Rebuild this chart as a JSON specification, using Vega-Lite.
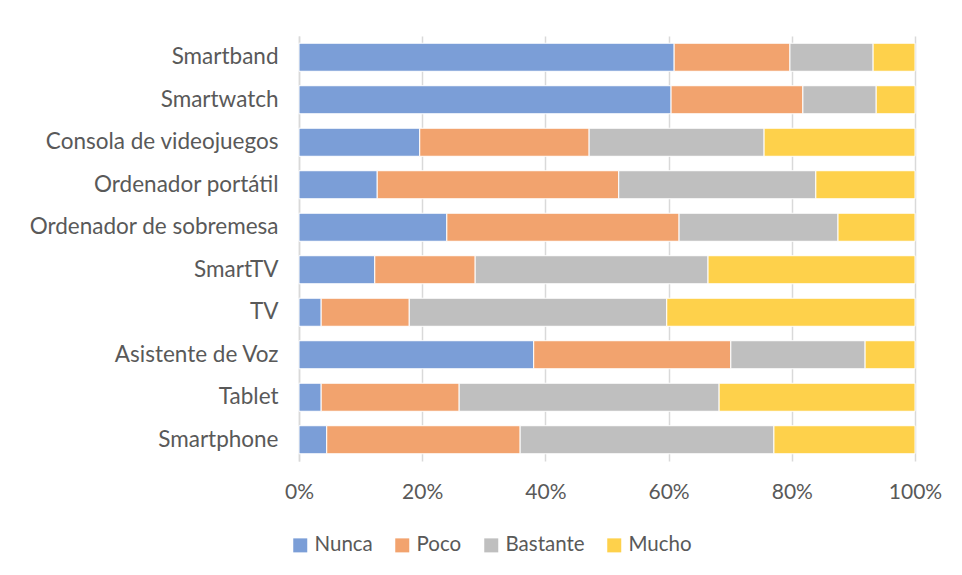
{
  "$schema": "https://vega.github.io/schema/vega-lite/v6.json",
  "width": 616,
  "height": 425,
  "autosize": "none",
  "padding": {"left": 299, "top": 36, "right": 47, "bottom": 114},
  "background": "white",
  "data": {"values": [
    {"d": "Smartband", "r": "Nunca", "v": 60.9}, {"d": "Smartband", "r": "Poco", "v": 18.8}, {"d": "Smartband", "r": "Bastante", "v": 13.5}, {"d": "Smartband", "r": "Mucho", "v": 6.8},
    {"d": "Smartwatch", "r": "Nunca", "v": 60.4}, {"d": "Smartwatch", "r": "Poco", "v": 21.4}, {"d": "Smartwatch", "r": "Bastante", "v": 11.9}, {"d": "Smartwatch", "r": "Mucho", "v": 6.3},
    {"d": "Consola de videojuegos", "r": "Nunca", "v": 19.6}, {"d": "Consola de videojuegos", "r": "Poco", "v": 27.5}, {"d": "Consola de videojuegos", "r": "Bastante", "v": 28.4}, {"d": "Consola de videojuegos", "r": "Mucho", "v": 24.5},
    {"d": "Ordenador portátil", "r": "Nunca", "v": 12.7}, {"d": "Ordenador portátil", "r": "Poco", "v": 39.2}, {"d": "Ordenador portátil", "r": "Bastante", "v": 32.0}, {"d": "Ordenador portátil", "r": "Mucho", "v": 16.1},
    {"d": "Ordenador de sobremesa", "r": "Nunca", "v": 24.0}, {"d": "Ordenador de sobremesa", "r": "Poco", "v": 37.7}, {"d": "Ordenador de sobremesa", "r": "Bastante", "v": 25.8}, {"d": "Ordenador de sobremesa", "r": "Mucho", "v": 12.5},
    {"d": "SmartTV", "r": "Nunca", "v": 12.3}, {"d": "SmartTV", "r": "Poco", "v": 16.3}, {"d": "SmartTV", "r": "Bastante", "v": 37.8}, {"d": "SmartTV", "r": "Mucho", "v": 33.6},
    {"d": "TV", "r": "Nunca", "v": 3.6}, {"d": "TV", "r": "Poco", "v": 14.3}, {"d": "TV", "r": "Bastante", "v": 41.8}, {"d": "TV", "r": "Mucho", "v": 40.3},
    {"d": "Asistente de Voz", "r": "Nunca", "v": 38.1}, {"d": "Asistente de Voz", "r": "Poco", "v": 32.0}, {"d": "Asistente de Voz", "r": "Bastante", "v": 21.8}, {"d": "Asistente de Voz", "r": "Mucho", "v": 8.1},
    {"d": "Tablet", "r": "Nunca", "v": 3.6}, {"d": "Tablet", "r": "Poco", "v": 22.4}, {"d": "Tablet", "r": "Bastante", "v": 42.2}, {"d": "Tablet", "r": "Mucho", "v": 31.8},
    {"d": "Smartphone", "r": "Nunca", "v": 4.5}, {"d": "Smartphone", "r": "Poco", "v": 31.4}, {"d": "Smartphone", "r": "Bastante", "v": 41.2}, {"d": "Smartphone", "r": "Mucho", "v": 22.9}
  ]},
  "transform": [{"calculate": "indexof(['Nunca','Poco','Bastante','Mucho'], datum.r)", "as": "o"}],
  "mark": {"type": "bar", "stroke": "white", "strokeWidth": 1},
  "encoding": {
    "y": {
      "field": "d", "type": "nominal",
      "sort": ["Smartband", "Smartwatch", "Consola de videojuegos", "Ordenador portátil", "Ordenador de sobremesa", "SmartTV", "TV", "Asistente de Voz", "Tablet", "Smartphone"],
      "scale": {"paddingInner": 0.34, "paddingOuter": 0.17},
      "axis": {"title": null, "ticks": false, "domainColor": "#d9d9d9", "domainWidth": 1.5, "labelFont": "Lato", "labelFontSize": 22.5, "labelColor": "#595959", "labelPadding": 21, "labelLimit": 400, "grid": false}
    },
    "x": {
      "field": "v", "type": "quantitative", "stack": "normalize",
      "scale": {"domain": [0, 1]},
      "axis": {"title": null, "format": ".0%", "values": [0, 0.2, 0.4, 0.6, 0.8, 1], "domain": false, "ticks": false, "grid": true, "gridColor": "#d9d9d9", "gridWidth": 1.5, "labelFlush": false, "labelFont": "Lato", "labelFontSize": 21, "labelColor": "#595959", "labelPadding": 20}
    },
    "order": {"field": "o", "type": "quantitative"},
    "color": {
      "field": "r", "type": "nominal",
      "sort": ["Nunca", "Poco", "Bastante", "Mucho"],
      "scale": {"domain": ["Nunca", "Poco", "Bastante", "Mucho"], "range": ["#7b9ed7", "#f2a36e", "#bfbfbf", "#fed14b"]},
      "legend": {"title": null, "orient": "none", "direction": "horizontal", "legendX": -9, "legendY": 499, "symbolType": "square", "symbolSize": 196, "symbolStrokeWidth": 0, "labelFont": "Lato", "labelFontSize": 20.5, "labelColor": "#595959", "labelOffset": 4, "columnPadding": 19}
    }
  },
  "config": {"view": {"stroke": null}}
}
